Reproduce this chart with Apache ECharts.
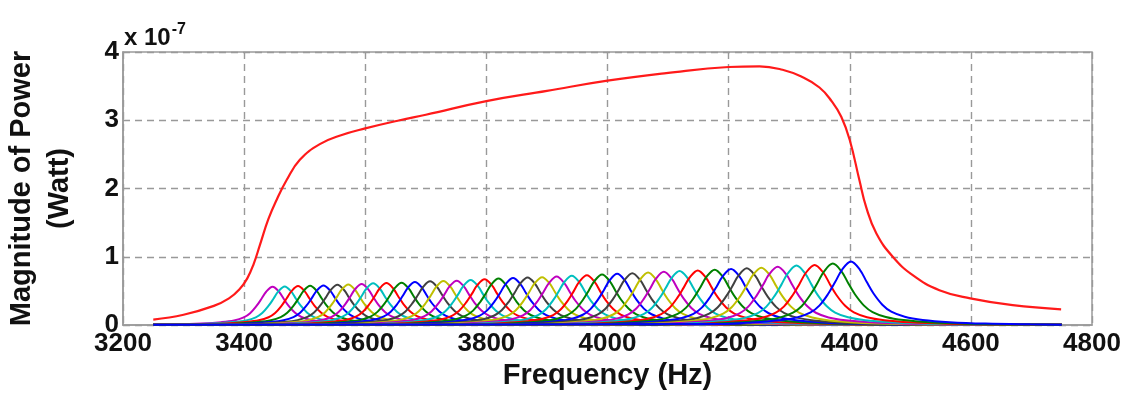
<!DOCTYPE html>
<html>
<head>
<meta charset="utf-8">
<script src="https://cdn.jsdelivr.net/npm/echarts@6/dist/echarts.min.js"></script>
<style>
  html, body { margin: 0; padding: 0; background: #fff; }
  #chart { width: 1141px; height: 396px; }
</style>
</head>
<body>
<div id="chart"></div>
<script>
// Envelope (red), [Hz, x1e-7 W]
var envFreq = [3250, 3300, 3350, 3375, 3392, 3405, 3416, 3426, 3440, 3454, 3470, 3492, 3525, 3560, 3600, 3657, 3700,
  3800, 3900, 4000, 4097, 4200, 4251, 4289, 4320, 4350, 4370, 4386, 4400, 4416, 4427, 4444, 4471, 4504, 4548, 4599, 4669, 4749];
var envPower = [0.08, 0.15, 0.28, 0.39, 0.52, 0.68, 0.9, 1.17, 1.55, 1.84, 2.12, 2.42, 2.65, 2.78, 2.88, 3.00, 3.08,
  3.28, 3.43, 3.58, 3.69, 3.78, 3.79, 3.74, 3.64, 3.48, 3.28, 3.05, 2.71, 2.12, 1.73, 1.34, 1.00, 0.73, 0.51, 0.39, 0.29, 0.23];

// Sub-band peaks (40 curves)
var peakFreq = [3447, 3467, 3489, 3509, 3531, 3554, 3572, 3594, 3613, 3635, 3660, 3682, 3707, 3729, 3751, 3774,
  3797, 3820, 3844, 3868, 3892, 3916, 3941, 3966, 3991, 4016, 4041, 4067, 4093, 4119, 4149, 4177, 4204, 4230,
  4254, 4281, 4312, 4342, 4372, 4402];
var peakPower = [0.56, 0.565, 0.57, 0.575, 0.58, 0.59, 0.595, 0.60, 0.61, 0.615, 0.62, 0.63, 0.64, 0.645, 0.65, 0.66,
  0.67, 0.68, 0.69, 0.695, 0.70, 0.71, 0.72, 0.73, 0.74, 0.75, 0.76, 0.77, 0.78, 0.79, 0.80, 0.81, 0.82, 0.83,
  0.84, 0.855, 0.87, 0.88, 0.90, 0.93];
var peakWidth = [53, 53, 54, 54, 55, 55, 55, 55, 56, 56, 57, 57, 58, 58, 59, 59, 60, 60, 61, 61, 62, 62, 62, 62,
  63, 63, 64, 64, 65, 66, 67, 68, 69, 69, 70, 70, 71, 72, 73, 74];

// Common peak profile (offset in widths, level relative to peak)
var shapeOffset = [-3.0, -2.2, -1.6, -1.2, -0.9, -0.7, -0.5, -0.35, -0.2, 0, 0.2, 0.35, 0.5, 0.7, 0.9, 1.2, 1.6, 2.2, 3.0, 4.0];
var shapeLevel = [0.015, 0.04, 0.075, 0.12, 0.2, 0.31, 0.5, 0.68, 0.87, 1, 0.87, 0.68, 0.5, 0.32, 0.21, 0.13, 0.08, 0.045, 0.022, 0.01];

var bandStart = 3250;
var bandEnd = 4750;

// MATLAB line colour order, counted from the last curve
var colorOrder = ['#0000ff', '#008000', '#ff0000', '#00bfbf', '#bf00bf', '#bfbf00', '#404040'];

var xTicks = [3200, 3400, 3600, 3800, 4000, 4200, 4400, 4600, 4800];
var yTicks = [0, 1, 2, 3, 4];

var font = 'Liberation Sans, Arial, Helvetica, sans-serif';

var series = [];

for (var i = 0; i < peakFreq.length; i++) {
    var pts = [[bandStart, 0.005]];
    for (var k = 0; k < shapeOffset.length; k++) {
        var f = peakFreq[i] + shapeOffset[k] * peakWidth[i];
        if (f > bandStart && f < bandEnd) {
            pts.push([f, peakPower[i] * shapeLevel[k]]);
        }
    }
    pts.push([bandEnd, 0.005]);
    series.push({
        type: 'line',
        data: pts,
        smooth: 0.35,
        showSymbol: false,
        silent: true,
        lineStyle: { color: colorOrder[(peakFreq.length - 1 - i) % colorOrder.length], width: 2 }
    });
}

var envData = envFreq.map(function (f, j) { return [f, envPower[j]]; });
series.push({
    type: 'line',
    data: envData,
    smooth: 0.45,
    showSymbol: false,
    silent: true,
    z: 5,
    lineStyle: { color: '#ff1a1a', width: 2.2 }
});

var chart = echarts.init(document.getElementById('chart'), null, { renderer: 'canvas' });

var options = {
    animation: false,
    backgroundColor: '#ffffff',

    // Setup grid
    grid: {
        left: 123,
        right: 49,
        top: 52,
        bottom: 71,
        outerBoundsMode: 'none',
        containLabel: false,
        show: true,
        borderColor: '#9a9a9a',
        borderWidth: 1.5
    },

    // Exponent label
    graphic: [{
        type: 'text',
        left: 124,
        top: 22,
        style: {
            text: '{a|x 10}{b|-7}',
            rich: {
                a: { fontFamily: font, fontWeight: 'bold', fontSize: 24, fill: '#111', verticalAlign: 'bottom' },
                b: { fontFamily: font, fontWeight: 'bold', fontSize: 16, fill: '#111', verticalAlign: 'top', padding: [0, 0, 12, 1] }
            }
        }
    }],

    // Horizontal axis
    xAxis: {
        type: 'value',
        min: xTicks[0],
        max: xTicks[xTicks.length - 1],
        interval: xTicks[1] - xTicks[0],
        name: 'Frequency (Hz)',
        nameLocation: 'middle',
        nameGap: 33,
        nameTextStyle: { fontFamily: font, fontWeight: 'bold', fontSize: 29, color: '#111' },
        axisLine: { lineStyle: { color: '#9a9a9a', width: 1.5 } },
        axisTick: { show: false },
        axisLabel: {
            fontFamily: font, fontWeight: 'bold', fontSize: 26, color: '#111', margin: 6,
            formatter: function (v) { return String(v); }
        },
        splitLine: { show: true, lineStyle: { color: '#999', type: [7, 5], width: 1.4 } }
    },

    // Vertical axis
    yAxis: {
        type: 'value',
        min: yTicks[0],
        max: yTicks[yTicks.length - 1],
        interval: yTicks[1] - yTicks[0],
        name: 'Magnitude of Power\n(Watt)',
        nameLocation: 'middle',
        nameRotate: 90,
        nameGap: 44,
        nameTextStyle: { fontFamily: font, fontWeight: 'bold', fontSize: 29, color: '#111', lineHeight: 38 },
        axisLine: { show: true, lineStyle: { color: '#9a9a9a', width: 1.5 } },
        axisTick: { show: false },
        axisLabel: { fontFamily: font, fontWeight: 'bold', fontSize: 26, color: '#111', margin: 4 },
        splitLine: { show: true, lineStyle: { color: '#999', type: [7, 5], width: 1.4 } }
    },

    // Add series
    series: series
};

chart.setOption(options);
</script>
</body>
</html>
